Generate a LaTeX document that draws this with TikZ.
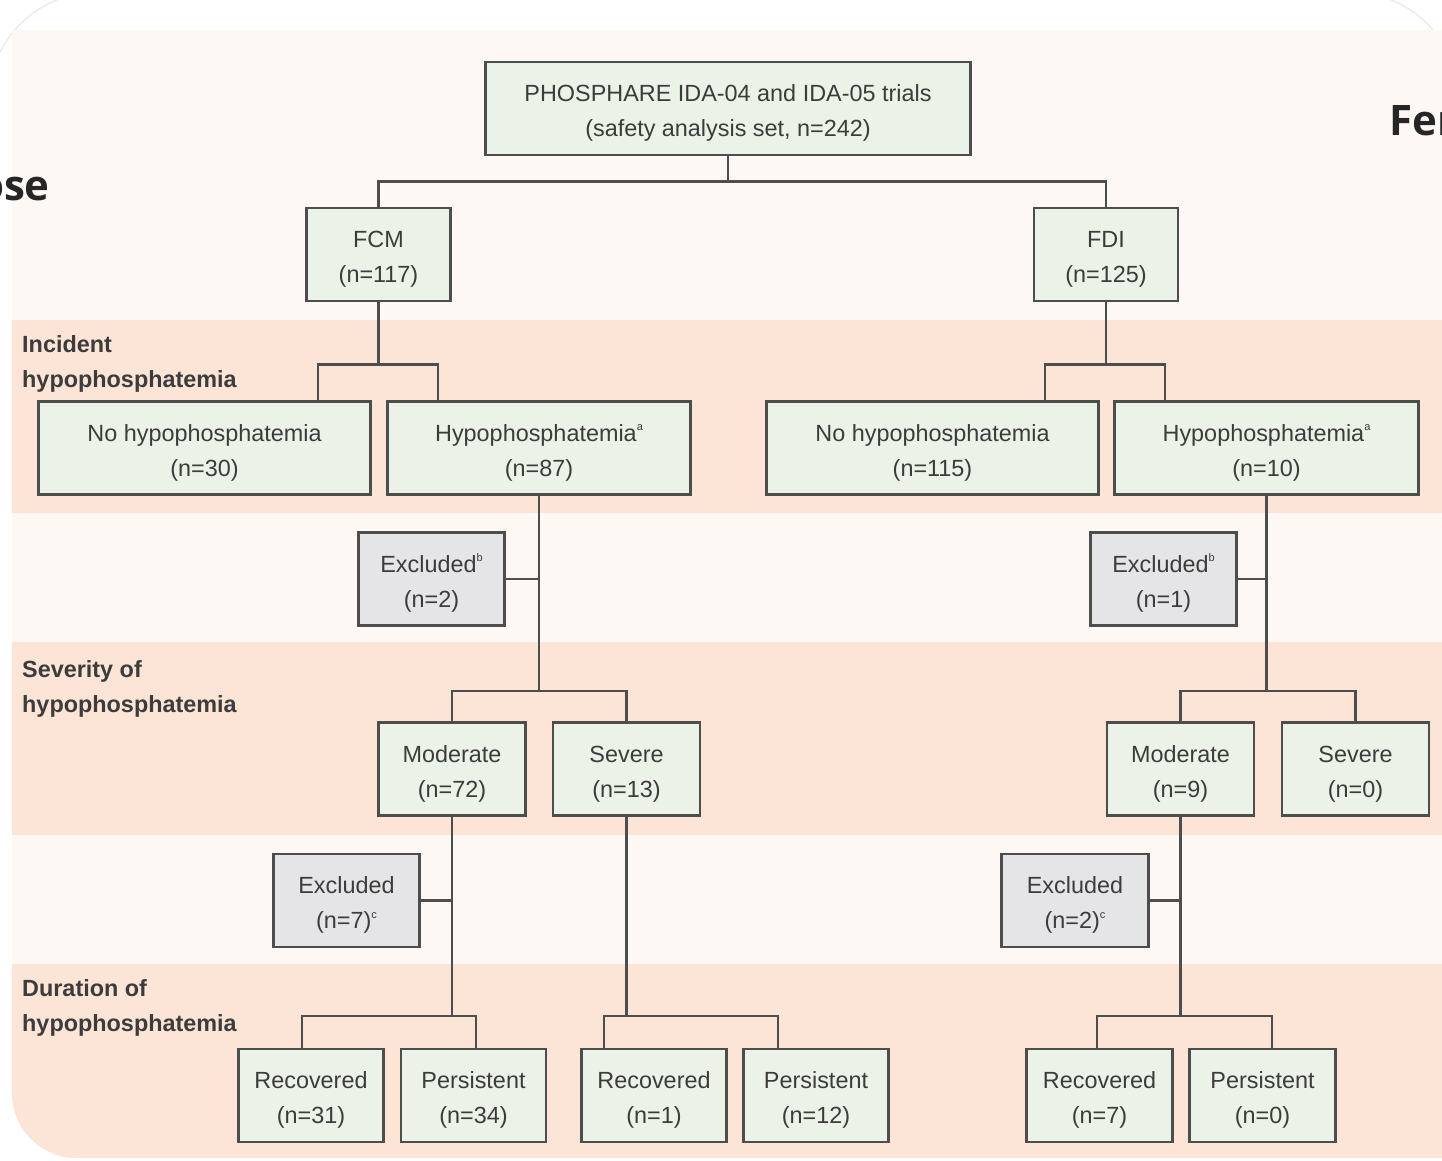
\documentclass[tikz,border=0pt]{standalone}
\usepackage{fontspec}
\setmainfont{Liberation Sans}
\newfontfamily\slidefont{Open Sans}
\definecolor{cream}{HTML}{FDF8F4}
\definecolor{band}{HTML}{FCE4D6}
\definecolor{boxgreen}{HTML}{EBF2E7}
\definecolor{boxgray}{HTML}{E5E5E7}
\definecolor{edge}{HTML}{4D4D4D}
\definecolor{ink}{HTML}{3C3C3C}
\definecolor{cardline}{HTML}{E6E6E6}
\newcommand{\fnmark}[1]{\raisebox{0.45em}{\fontsize{11}{11}\selectfont #1}}
\newcommand{\pair}[2]{\rule{0pt}{26pt}#1\\#2}

\begin{document}
\begin{tikzpicture}[
    x=1pt, y=-1pt,
    node distance=146pt,
    box/.style={rectangle, draw=edge, fill=boxgreen, line width=2.6pt,
                minimum height=93pt, align=center, text=ink,
                font=\fontsize{23.4}{35}\selectfont},
    excl/.style={box, fill=boxgray},
    phase/.style={anchor=north west, inner sep=0pt, align=left, text=ink,
                  font=\bfseries\fontsize{23.4}{35}\selectfont},
    cut/.style={inner sep=0pt, text=black!85,
                font=\slidefont\bfseries\fontsize{42}{50}\selectfont},
    link/.style={draw=edge, line width=2.6pt}
]

    \useasboundingbox (0,0) rectangle (1442,1160);
    \fill[white] (0,0) rectangle (1442,1160);
    \draw[cardline, line width=1pt, rounded corners=110pt]
        (-12,1300) -- (-12,-8) -- (1460,-8) -- (1460,1300);

    % slide card with the three bands
    \begin{scope}
        \clip (12,30) -- (1448,30) -- (1448,1158) [rounded corners=65pt]
            -- (12,1158) [rounded corners=45pt] -- (12,30) [sharp corners] -- cycle;
        \fill[cream] (0,0) rectangle (1460,1170);
        \fill[band] (0,320) rectangle (1460,513);
        \fill[band] (0,642) rectangle (1460,835);
        \fill[band] (0,964) rectangle (1460,1170);
    \end{scope}

    \node (cuttitle) [cut, anchor=base east] at (50,200) {ose};
    \node (cutright) [cut, anchor=base west] at (1389,135) {Fer};

    \node (incident) [phase] at (22,335) {Incident\\hypophosphatemia};
    \node (severity) [phase] at (22,660) {Severity of\\hypophosphatemia};
    \node (duration) [phase] at (22,979) {Duration of\\hypophosphatemia};

    \node (top) [box, minimum width=485pt] at (728,108.5)
        {\pair{PHOSPHARE IDA-04 and IDA-05 trials}{(safety analysis set, n=242)}};
    \node (fcm) [box, minimum width=144pt, below of=top, xshift=-349.5pt] {\pair{FCM}{(n=117)}};
    \node (fdi) [box, minimum width=144pt, below of=top, xshift=378pt] {\pair{FDI}{(n=125)}};

    \node (fcmno) [box, minimum width=332pt, below of=fcm, xshift=-174pt, yshift=-47.5pt]
        {\pair{No hypophosphatemia}{(n=30)}};
    \node (fcmhyp) [box, minimum width=303pt, below of=fcm, xshift=160.5pt, yshift=-47.5pt]
        {\pair{Hypophosphatemia\fnmark{a}}{(n=87)}};
    \node (fdino) [box, minimum width=332pt, below of=fdi, xshift=-173.5pt, yshift=-47.5pt]
        {\pair{No hypophosphatemia}{(n=115)}};
    \node (fdihyp) [box, minimum width=304pt, below of=fdi, xshift=160.5pt, yshift=-47.5pt]
        {\pair{Hypophosphatemia\fnmark{a}}{(n=10)}};

    \node (fcmex) [excl, minimum width=146pt, below of=fcmhyp, xshift=-107.5pt, yshift=15pt]
        {\pair{Excluded\fnmark{b}}{(n=2)}};
    \node (fdiex) [excl, minimum width=146pt, below of=fdihyp, xshift=-103pt, yshift=15pt]
        {\pair{Excluded\fnmark{b}}{(n=1)}};

    \node (fcmmod) [box, minimum width=147pt, below of=fcmex, xshift=20.5pt, yshift=-44pt]
        {\pair{Moderate}{(n=72)}};
    \node (fcmsev) [box, minimum width=147pt, below of=fcmex, xshift=195pt, yshift=-44pt]
        {\pair{Severe}{(n=13)}};
    \node (fdimod) [box, minimum width=147pt, below of=fdiex, xshift=17pt, yshift=-44pt]
        {\pair{Moderate}{(n=9)}};
    \node (fdisev) [box, minimum width=147pt, below of=fdiex, xshift=192pt, yshift=-44pt]
        {\pair{Severe}{(n=0)}};

    \node (fcmex2) [excl, minimum width=146pt, below of=fcmmod, xshift=-105.5pt, yshift=14.5pt]
        {\pair{Excluded}{(n=7)\fnmark{c}}};
    \node (fdiex2) [excl, minimum width=147pt, below of=fdimod, xshift=-105.5pt, yshift=14.5pt]
        {\pair{Excluded}{(n=2)\fnmark{c}}};

    \node (fcmrec1) [box, minimum width=145pt, below of=fcmex2, xshift=-35.5pt, yshift=-49pt]
        {\pair{Recovered}{(n=31)}};
    \node (fcmper1) [box, minimum width=145pt, below of=fcmex2, xshift=127pt, yshift=-49pt]
        {\pair{Persistent}{(n=34)}};
    \node (fcmrec2) [box, minimum width=145pt, below of=fcmex2, xshift=307.5pt, yshift=-49pt]
        {\pair{Recovered}{(n=1)}};
    \node (fcmper2) [box, minimum width=145pt, below of=fcmex2, xshift=469.5pt, yshift=-49pt]
        {\pair{Persistent}{(n=12)}};
    \node (fdirec) [box, minimum width=146pt, below of=fdiex2, xshift=24.5pt, yshift=-49pt]
        {\pair{Recovered}{(n=7)}};
    \node (fdiper) [box, minimum width=146pt, below of=fdiex2, xshift=187.5pt, yshift=-49pt]
        {\pair{Persistent}{(n=0)}};

    % trial split
    \draw[link] (top.south) -- ++(0,25) coordinate (jtop);
    \draw[link] (fcm.north) |- (jtop) -| (fdi.north);

    % incident hypophosphatemia
    \draw[link] (fcm.south) -- ++(0,62) coordinate (jfcm);
    \draw[link] ([xshift=113.5pt]fcmno.north) |- (jfcm) -| ([xshift=-101pt]fcmhyp.north);
    \draw[link] (fdi.south) -- ++(0,62) coordinate (jfdi);
    \draw[link] ([xshift=112.5pt]fdino.north) |- (jfdi) -| ([xshift=-101.5pt]fdihyp.north);

    % severity
    \draw[link] (fcmhyp.south) -- ++(0,195) coordinate (jfcmhyp);
    \draw[link] (fcmmod.north) |- (jfcmhyp) -| (fcmsev.north);
    \draw[link] (fcmex.east) -- (fcmex.east -| fcmhyp.south);
    \draw[link] (fdihyp.south) -- ++(0,195) coordinate (jfdihyp);
    \draw[link] (fdimod.north) |- (jfdihyp) -| (fdisev.north);
    \draw[link] (fdiex.east) -- (fdiex.east -| fdihyp.south);

    % duration
    \draw[link] (fcmmod.south) -- ++(0,199) coordinate (jfcmmod);
    \draw[link] ([xshift=-9pt]fcmrec1.north) |- (jfcmmod) -| ([xshift=2.5pt]fcmper1.north);
    \draw[link] (fcmex2.east) -- (fcmex2.east -| fcmmod.south);
    \draw[link] (fcmsev.south) -- ++(0,199) coordinate (jfcmsev);
    \draw[link] ([xshift=-50pt]fcmrec2.north) |- (jfcmsev) -| ([xshift=-38pt]fcmper2.north);
    \draw[link] (fdimod.south) -- ++(0,199) coordinate (jfdimod);
    \draw[link] ([xshift=-2.5pt]fdirec.north) |- (jfdimod) -| ([xshift=9.5pt]fdiper.north);
    \draw[link] (fdiex2.east) -- (fdiex2.east -| fdimod.south);

\end{tikzpicture}
\end{document}
